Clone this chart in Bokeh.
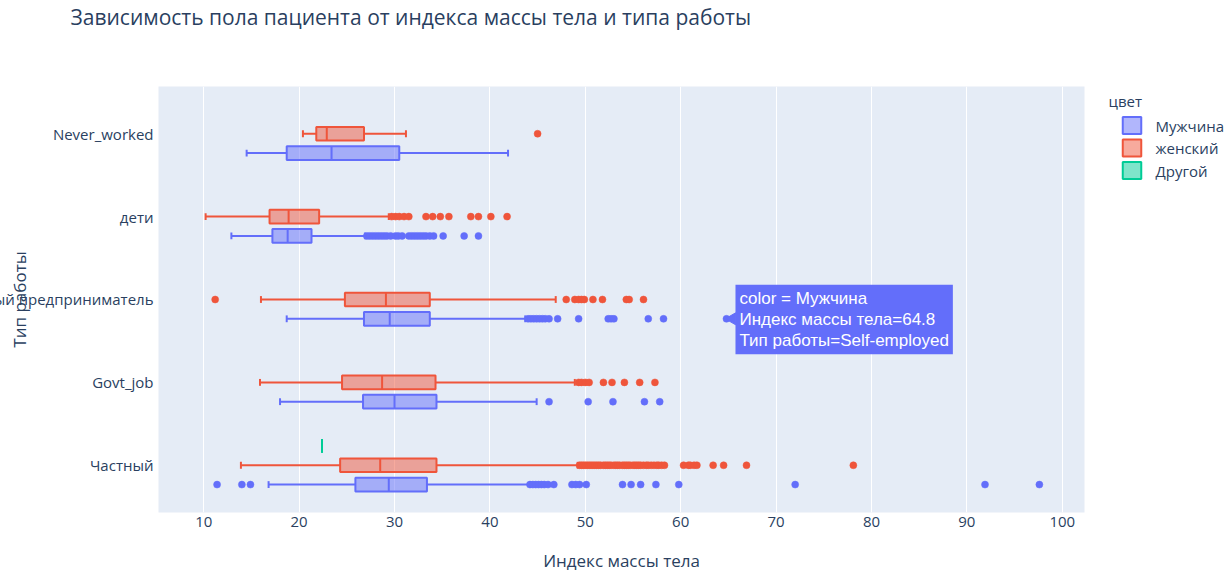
from math import pi
from bokeh.plotting import figure
from bokeh.models import FactorRange, Range1d, Label, ColumnDataSource, CategoricalAxis
from bokeh.transform import dodge
from bokeh.embed import file_html
from bokeh.resources import INLINE

# ---------------- data ----------------
categories = ["Частный", "Govt_job", "Индивидуальный предприниматель", "дети", "Never_worked"]
groups = ["Мужчина", "женский", "Другой"]
colors = ["#636efa", "#EF553B", "#00cc96"]

# box statistics per category (same order as categories)
male_lo = [16.8, 18.0, 18.7, 12.9, 14.5]
male_q1 = [25.9, 26.7, 26.8, 17.2, 18.7]
male_med = [29.4, 30.0, 29.5, 18.8, 23.4]
male_q3 = [33.4, 34.4, 33.7, 21.3, 30.5]
male_hi = [44.2, 44.9, 43.7, 26.9, 41.9]
male_out = [
    [11.4, 14.0, 14.9, 44.2, 44.5, 44.8, 45.1, 45.4, 45.7, 46.1, 46.7, 48.6, 49.0, 49.4, 50.1,
     53.9, 54.8, 55.8, 57.4, 59.8, 72.0, 91.9, 97.6],
    [46.2, 50.3, 52.9, 56.2, 57.8],
    [44.0, 44.3, 44.6, 44.9, 45.2, 45.5, 45.8, 46.2, 47.1, 49.3, 52.4, 52.7, 53.0, 56.6, 58.2, 64.8],
    [27.1, 27.4, 27.7, 28.0, 28.3, 28.6, 28.9, 29.2, 29.6, 30.1, 30.4, 30.8, 31.5, 31.8, 32.1,
     32.4, 32.7, 33.0, 33.3, 33.7, 34.1, 35.1, 37.3, 38.8],
    [],
]

female_lo = [13.9, 15.9, 16.0, 10.2, 20.4]
female_q1 = [24.3, 24.5, 24.8, 16.9, 21.8]
female_med = [28.5, 28.7, 29.1, 18.9, 22.9]
female_q3 = [34.4, 34.3, 33.7, 22.1, 26.8]
female_hi = [49.2, 48.9, 46.9, 29.4, 31.2]
female_out = [
    [49.4, 49.6, 49.8, 50.0, 50.2, 50.4, 50.6, 50.8, 51.0, 51.2, 51.4, 51.6, 51.9, 52.1, 52.3,
     52.5, 52.7, 53.0, 53.2, 53.4, 53.6, 53.9, 54.1, 54.3, 54.5, 54.7, 55.0, 55.2, 55.4, 55.6,
     55.8, 56.1, 56.4, 56.6, 56.9, 57.2, 57.5, 57.7, 58.0, 58.3, 60.3, 60.8, 61.0, 61.4, 61.7,
     63.4, 64.5, 66.9, 78.1],
    [49.3, 49.6, 50.0, 50.4, 51.9, 52.8, 54.1, 55.7, 57.3],
    [11.2, 48.0, 48.9, 49.3, 49.6, 49.9, 50.8, 51.8, 54.3, 54.6, 56.1],
    [29.7, 30.1, 30.5, 31.0, 31.5, 33.3, 34.0, 34.8, 35.7, 38.0, 38.8, 40.1, 41.8],
    [45.0],
]

other_cats = ["Частный"]
other_lo = [22.4]
other_q1 = [22.4]
other_med = [22.4]
other_q3 = [22.4]
other_hi = [22.4]
other_out = [[]]

hover_value = 64.8
hover_text = "color = Мужчина\nИндекс массы тела=64.8\nТип работы=Self-employed"

title_text = "Зависимость пола пациента от индекса массы тела и типа работы"
x_title = "Индекс массы тела"
y_title = "Тип работы"
legend_title = "цвет"
x_ticks = [10, 20, 30, 40, 50, 60, 70, 80, 90, 100]

# ---------------- style ----------------
FONT = "Open Sans"
TXT = "#2a3f5f"
BOX_H = 0.165
offsets = [-0.233, 0.0, 0.233]
W, H = 1227, 574
BL, BR, BT, BB = 158, 143, 86, 62
FH = H - BT - BB
PAD = 0.07
LONG_I = 2
LONG = categories[LONG_I]
ROW = 19  # height of one 15px text panel in the top stack

p = figure(width=W, height=H, output_backend="svg", toolbar_location=None, title=None,
           y_range=FactorRange(factors=categories, range_padding=PAD, range_padding_units="absolute"),
           x_range=Range1d(5.26, 102.33),
           min_border_left=BL, min_border_right=BR, min_border_top=BT, min_border_bottom=BB)
p.background_fill_color = "#E5ECF6"
p.border_fill_color = "white"
p.outline_line_color = None
p.yaxis.visible = False

# axis labels: the long category (cut at the page edge in the original) is drawn separately
axis_factors = [c if i != LONG_I else " " for i, c in enumerate(categories)]
p.extra_y_ranges = {"ax": FactorRange(factors=axis_factors, range_padding=PAD,
                                      range_padding_units="absolute")}
yax = CategoricalAxis(y_range_name="ax")
p.add_layout(yax, "left")

p.xgrid.grid_line_color = "white"
p.xgrid.grid_line_width = 1
p.ygrid.grid_line_color = None
for ax in (p.xaxis[0], yax):
    ax.axis_line_color = None
    ax.major_tick_line_color = None
    ax.minor_tick_line_color = None
    ax.major_tick_out = 0
    ax.major_label_text_font = FONT
    ax.major_label_text_font_size = "15px"
    ax.major_label_text_color = TXT
    ax.axis_label_text_font = FONT
    ax.axis_label_text_font_size = "17px"
    ax.axis_label_text_font_style = "normal"
    ax.axis_label_text_color = TXT
p.xaxis.ticker = x_ticks
p.xaxis.major_label_standoff = 4
p.xaxis.axis_label = x_title
p.xaxis.axis_label_standoff = 19
yax.major_label_standoff = 5
yax.axis_label = y_title
yax.axis_label_standoff = 19

xs = p.x_range.start
xe = p.x_range.end


def cat_y(i):
    n = len(categories)
    return (i + 0.5 + PAD / 2) / (n + PAD) * FH


stats = [
    (categories, male_lo, male_q1, male_med, male_q3, male_hi, male_out),
    (categories, female_lo, female_q1, female_med, female_q3, female_hi, female_out),
    (other_cats, other_lo, other_q1, other_med, other_q3, other_hi, other_out),
]

for (cats, lo, q1, med, q3, hi, outs), col, off, name in zip(stats, colors, offsets, groups):
    src = ColumnDataSource(dict(cat=cats, lo=lo, q1=q1, med=med, q3=q3, hi=hi))
    yc = dodge("cat", off, range=p.y_range)
    p.segment(x0="lo", x1="q1", y0=yc, y1=yc, source=src, line_color=col, line_width=2)
    p.segment(x0="q3", x1="hi", y0=yc, y1=yc, source=src, line_color=col, line_width=2)
    p.segment(x0="lo", x1="lo", y0=dodge("cat", off - BOX_H / 4, range=p.y_range),
              y1=dodge("cat", off + BOX_H / 4, range=p.y_range), source=src, line_color=col, line_width=2)
    p.segment(x0="hi", x1="hi", y0=dodge("cat", off - BOX_H / 4, range=p.y_range),
              y1=dodge("cat", off + BOX_H / 4, range=p.y_range), source=src, line_color=col, line_width=2)
    p.hbar(y=yc, left="q1", right="q3", height=BOX_H, source=src,
           fill_color=col, fill_alpha=0.5, line_color=col, line_width=2)
    p.segment(x0="med", x1="med", y0=dodge("cat", off - BOX_H / 2, range=p.y_range),
              y1=dodge("cat", off + BOX_H / 2, range=p.y_range), source=src, line_color=col, line_width=2)
    oc, ox = [], []
    for c, vals in zip(cats, outs):
        for v in vals:
            oc.append(c)
            ox.append(v)
    osrc = ColumnDataSource(dict(cat=oc, x=ox))
    p.scatter(x="x", y=yc, source=osrc, size=7, fill_color=col, line_color=col, line_width=0.5)

# ---- top stack (each panel is placed above the previous one) ----
# legend title
p.add_layout(Label(x=xe, y=-14, x_offset=24, y_units="screen", text=legend_title,
                   text_align="left", text_baseline="middle", text_font=FONT,
                   text_font_size="15px", text_color=TXT), "above")
# long category label
p.add_layout(Label(x=xs, y=cat_y(LONG_I) - FH - ROW, x_offset=-5, y_units="screen", text=LONG,
                   text_align="right", text_baseline="middle", text_font=FONT,
                   text_font_size="15px", text_color=TXT), "above")
# chart title
p.add_layout(Label(x=xs, y=49 - ROW, x_offset=-88, y_units="screen", text=title_text,
                   text_align="left", text_baseline="middle", text_font=FONT,
                   text_font_size="21px", text_color=TXT), "above")

# ---- legend in the right panel ----
p.add_layout(Label(x=xe, y=FH - 61.5, x_offset=71, y_units="screen", text="\n".join(groups),
                   anchor="center_left", text_align="left", text_baseline="middle",
                   text_font=FONT, text_font_size="15px", text_color=TXT,
                   text_line_height=1.125), "right")
for k, col in enumerate(colors):
    p.add_layout(Label(x=xe, y=FH - 39 - 22.5 * k, x_offset=47.5, y_units="screen",
                       text="\u2003\u2002",
                       anchor="center", text_align="center", text_baseline="middle",
                       text_font=FONT, text_font_size="11px", padding=1,
                       background_fill_color=col, background_fill_alpha=0.5,
                       border_line_color=col, border_line_width=2), "right")

# static hover tooltip
tip_src = ColumnDataSource(dict(cat=[categories[2]], x=[hover_value + 0.6]))
p.scatter(x="x", y=dodge("cat", offsets[0], range=p.y_range), source=tip_src, marker="triangle",
          angle=pi / 2, size=12, fill_color=colors[0], line_color=colors[0])
p.add_layout(Label(x=hover_value, y=cat_y(2) - 20, y_units="screen", x_offset=9, text=hover_text,
                   anchor="center_left", text_align="left", text_baseline="middle",
                   text_font="Liberation Sans", text_font_size="17px", text_color="white",
                   text_line_height=1.12, padding=4,
                   background_fill_color=colors[0], background_fill_alpha=1.0))

open("out.html", "w").write(file_html(p, INLINE))
